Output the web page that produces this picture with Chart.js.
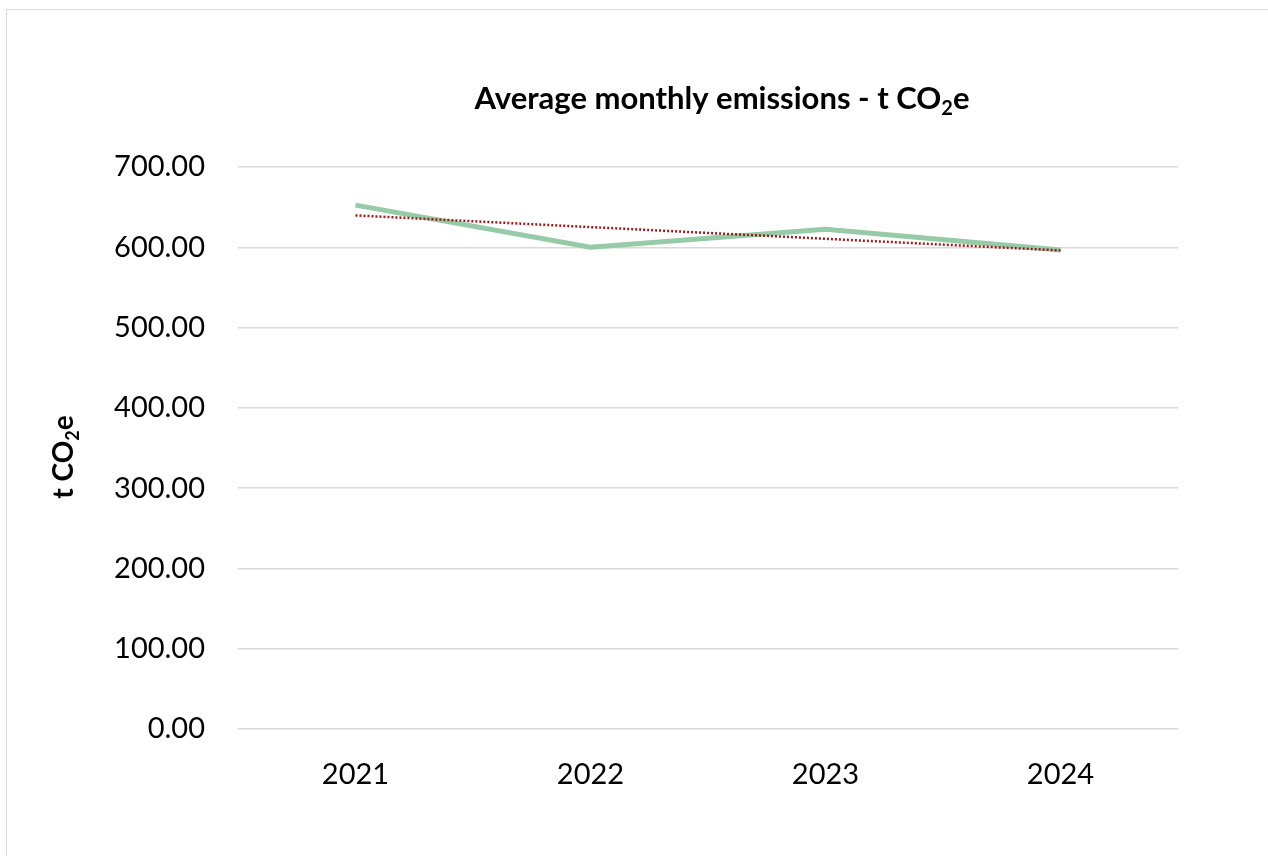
<!DOCTYPE html>
<html>
<head>
<meta charset="utf-8">
<title>Average monthly emissions - t CO₂e</title>
<script src="https://cdn.jsdelivr.net/npm/chart.js@4.4.1/dist/chart.umd.min.js"></script>
<style>
  html, body { margin: 0; padding: 0; background: #fff; overflow: hidden; width: 1268px; height: 856px; }
  #frame { position: absolute; left: 6px; top: 9px; width: 1400px; height: 1000px; border: 1px solid #d9d9d9; box-sizing: border-box; }
  #wrap { position: absolute; left: 0; top: 0; width: 1268px; height: 856px; }
</style>
</head>
<body>
<div id="frame"></div>
<div id="wrap"><canvas id="chart" width="1268" height="856"></canvas></div>
<script>
// Average monthly emissions per year, in tonnes CO2e
const years = ['2021', '2022', '2023', '2024'];
const avgMonthly = [652.5, 600.0, 622.5, 596.5];

// Value axis
const yMin = 0;
const yMax = 700;
const yStep = 100;

// Chart texts (main part, subscript, tail)
const titleParts = ['Average monthly emissions - t CO', '2', 'e'];
const yTitleParts = ['t CO', '2', 'e'];

// Linear least-squares trendline over the yearly values
function linearTrend(values) {
  const n = values.length;
  const xs = values.map((_, i) => i);
  const mx = xs.reduce((a, b) => a + b, 0) / n;
  const my = values.reduce((a, b) => a + b, 0) / n;
  let num = 0, den = 0;
  for (let i = 0; i < n; i++) {
    num += (xs[i] - mx) * (values[i] - my);
    den += (xs[i] - mx) * (xs[i] - mx);
  }
  const slope = num / den;
  const icpt = my - slope * mx;
  return xs.map(x => icpt + slope * x);
}
const trend = linearTrend(avgMonthly);

const FONT = 'Lato, "Open Sans", "DejaVu Sans", sans-serif';

// Draws text with a subscript segment, horizontally centred on cx
function drawSubText(ctx, parts, cx, baseline, size) {
  const subSize = Math.round(size * 0.66);
  const mainFont = `bold ${size}px ${FONT}`;
  const subFont = `bold ${subSize}px ${FONT}`;
  ctx.font = mainFont;
  const w0 = ctx.measureText(parts[0]).width;
  const w2 = ctx.measureText(parts[2]).width;
  ctx.font = subFont;
  const w1 = ctx.measureText(parts[1]).width;
  let x = cx - (w0 + w1 + w2) / 2;
  ctx.textAlign = 'left';
  ctx.textBaseline = 'alphabetic';
  ctx.fillStyle = '#000';
  ctx.font = mainFont;
  ctx.fillText(parts[0], x, baseline);
  x += w0;
  ctx.font = subFont;
  ctx.fillText(parts[1], x, baseline + size * 0.2);
  x += w1;
  ctx.font = mainFont;
  ctx.fillText(parts[2], x, baseline);
}

const titlesPlugin = {
  id: 'titles',
  afterDraw(chart) {
    const ctx = chart.ctx;
    ctx.save();
    drawSubText(ctx, titleParts, 722, 109, 31);
    ctx.translate(73, 457);
    ctx.rotate(-Math.PI / 2);
    drawSubText(ctx, yTitleParts, 0, 0, 28);
    ctx.restore();
  }
};

new Chart(document.getElementById('chart'), {
  type: 'line',
  data: {
    labels: years,
    datasets: [
      {
        label: 'Average monthly emissions',
        data: avgMonthly,
        borderColor: '#96cba7',
        borderWidth: 5,
        pointRadius: 0,
        tension: 0,
        fill: false,
        order: 2
      },
      {
        label: 'Linear trend',
        data: trend,
        borderColor: '#9e1b1b',
        borderWidth: 2.5,
        borderDash: [2, 2],
        pointRadius: 0,
        tension: 0,
        fill: false,
        order: 1
      }
    ]
  },
  options: {
    responsive: false,
    animation: false,
    devicePixelRatio: 1,
    layout: { padding: { left: 0, top: 167, right: 90, bottom: 0 } },
    plugins: {
      legend: { display: false },
      title: { display: false },
      tooltip: { enabled: false }
    },
    scales: {
      x: {
        offset: true,
        grid: { display: false, drawTicks: false },
        border: { display: false },
        ticks: {
          color: '#000',
          padding: 28,
          font: { family: FONT, size: 29 }
        },
        afterFit(scale) { scale.height = 127; }
      },
      y: {
        min: yMin,
        max: yMax,
        grid: { color: '#d9d9d9', lineWidth: 1.5, drawTicks: false },
        border: { display: false },
        ticks: {
          stepSize: yStep,
          color: '#000',
          padding: 33,
          font: { family: FONT, size: 29 },
          callback: v => Number(v).toFixed(2)
        },
        afterFit(scale) { scale.width = 238; }
      }
    }
  },
  plugins: [titlesPlugin]
});
</script>
</body>
</html>
